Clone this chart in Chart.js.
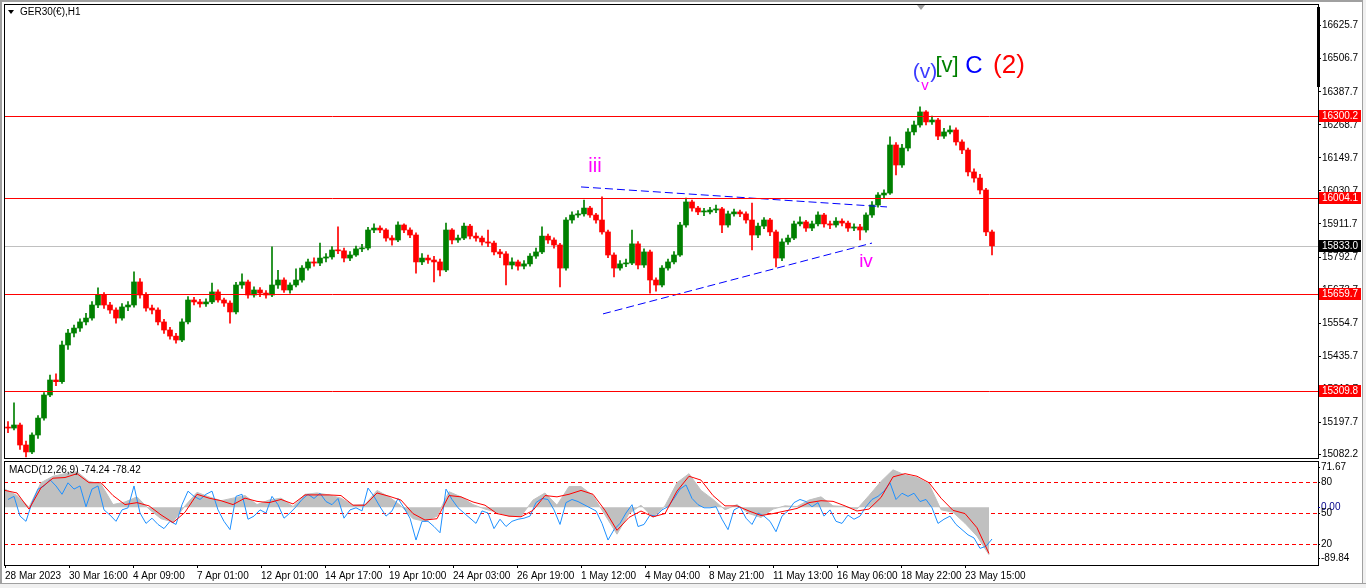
<!DOCTYPE html>
<html>
<head>
<meta charset="utf-8">
<script src="https://cdn.jsdelivr.net/npm/chart.js@4.4.0/dist/chart.umd.min.js"></script>
<style>
html, body { margin: 0; padding: 0; background: #fff; width: 1366px; height: 588px; overflow: hidden; }
canvas { position: absolute; left: 0; }
#main { top: 0; }
#macd { top: 460px; }
.edge { position: absolute; background: #a0a0a0; }
#edge-left { left: 0; top: 0; width: 2px; height: 588px; }
#edge-top { left: 0; top: 0; width: 1366px; height: 2px; }
#edge-right { left: 1362px; top: 0; width: 4px; height: 588px; background: #f0f0f0; border-left: 1px solid #a0a0a0; }
#edge-bottom { left: 0; top: 583px; width: 1366px; height: 5px; background: #f0f0f0; border-top: 1px solid #a0a0a0; }
</style>
</head>
<body>
<canvas id="main" width="1366" height="460"></canvas>
<canvas id="macd" width="1366" height="123"></canvas>
<div class="edge" id="edge-left"></div>
<div class="edge" id="edge-top"></div>
<div class="edge" id="edge-right"></div>
<div class="edge" id="edge-bottom"></div>
<script>
// time axis: one unit = one H1 bar
const tickLabels = ['28 Mar 2023', '30 Mar 16:00', '4 Apr 09:00', '7 Apr 01:00', '12 Apr 01:00', '14 Apr 17:00',
    '19 Apr 10:00', '24 Apr 03:00', '26 Apr 19:00', '1 May 12:00', '4 May 04:00', '8 May 21:00',
    '11 May 13:00', '16 May 06:00', '18 May 22:00', '23 May 15:00'];
const hoursPerTick = 64;
const hourMin = -1;
const hourMax = 1313;

// price axis
const priceTicks = [16625.7, 16506.7, 16387.7, 16268.7, 16149.7, 16030.7, 15911.7, 15792.7,
    15673.7, 15554.7, 15435.7, 15316.7, 15197.7, 15082.2];
const priceMin = 15069.2;
const priceMax = 16703.6;
const priceLevels = [16300.2, 16004.1, 15659.7, 15309.8];
const lastPrice = 15833.0;

// 6-hour candles (open of each = previous close)
const candleStep = 6;
const firstOpen = 15180;
const candleClose = [
    15177, 15188, 15116, 15091, 15152, 15213, 15296, 15350, 15344, 15476,
    15519, 15537, 15559, 15573, 15620, 15656, 15620, 15602, 15573, 15613,
    15620, 15703, 15656, 15609, 15602, 15559, 15530, 15508, 15494, 15559,
    15638, 15631, 15624, 15631, 15667, 15638, 15627, 15595, 15692, 15703,
    15656, 15674, 15663, 15656, 15692, 15710, 15674, 15692, 15710, 15753,
    15775, 15771, 15789, 15793, 15818, 15815, 15789, 15800, 15822, 15825,
    15890, 15897, 15890, 15861, 15854, 15908, 15890, 15872, 15775, 15789,
    15782, 15775, 15746, 15890, 15854, 15861, 15904, 15868, 15861, 15847,
    15843, 15811, 15804, 15764, 15775, 15760, 15768, 15796, 15811, 15868,
    15854, 15836, 15753, 15926, 15944, 15948, 15969, 15944, 15926, 15883,
    15800, 15753, 15768, 15771, 15840, 15764, 15811, 15710, 15692, 15753,
    15775, 15800, 15908, 15991, 15969, 15955, 15955, 15962, 15966, 15908,
    15948, 15955, 15948, 15926, 15872, 15904, 15926, 15883, 15789, 15847,
    15861, 15912, 15919, 15897, 15912, 15944, 15912, 15908, 15922, 15915,
    15897, 15901, 15890, 15944, 15980, 16016, 16023, 16196, 16124, 16185,
    16243, 16268, 16315, 16279, 16286, 16228, 16243, 16250, 16207, 16178,
    16099, 16077, 16034, 15883, 15833
];
const candleHigh = [
    15200, 15268, 15195, 15130, 15160, 15222, 15305, 15368, 15372, 15490,
    15532, 15548, 15570, 15590, 15632, 15682, 15665, 15630, 15610, 15625,
    15632, 15739, 15715, 15665, 15620, 15610, 15568, 15540, 15518, 15570,
    15650, 15648, 15640, 15642, 15699, 15675, 15645, 15635, 15702, 15732,
    15710, 15685, 15683, 15672, 15829, 15745, 15718, 15700, 15750, 15762,
    15785, 15790, 15843, 15805, 15830, 15901, 15825, 15812, 15832, 15838,
    15900, 15912, 15905, 15895, 15870, 15919, 15912, 15898, 15880, 15805,
    15800, 15795, 15785, 15915, 15895, 15872, 15915, 15910, 15880, 15868,
    15890, 15850, 15820, 15812, 15790, 15782, 15780, 15805, 15825, 15901,
    15875, 15862, 15842, 15935, 15955, 15960, 15998, 15975, 15950, 16009,
    15890, 15808, 15780, 15785, 15890, 15848, 15822, 15818, 15718, 15762,
    15785, 15812, 15918, 16005, 15998, 15975, 15968, 15972, 15980, 15972,
    15958, 15965, 15962, 15955, 15987, 15915, 15935, 15932, 15890, 15858,
    15872, 15922, 15937, 15925, 15922, 15955, 15950, 15922, 15935, 15930,
    15922, 15912, 15910, 15952, 15992, 16025, 16035, 16225, 16205, 16198,
    16255, 16282, 16333, 16320, 16300, 16292, 16256, 16265, 16258, 16215,
    16185, 16110, 16090, 16040, 15890
];
const candleLow = [
    15160, 15170, 15100, 15073, 15085, 15140, 15205, 15290, 15330, 15338,
    15460, 15505, 15525, 15548, 15565, 15610, 15608, 15590, 15555, 15565,
    15600, 15612, 15645, 15598, 15588, 15548, 15518, 15497, 15483, 15488,
    15552, 15620, 15612, 15615, 15625, 15630, 15615, 15555, 15588, 15680,
    15645, 15648, 15650, 15645, 15650, 15680, 15665, 15663, 15685, 15702,
    15745, 15760, 15762, 15775, 15785, 15805, 15775, 15780, 15795, 15812,
    15818, 15880, 15880, 15850, 15835, 15848, 15880, 15862, 15735, 15765,
    15770, 15703, 15725, 15740, 15840, 15845, 15855, 15858, 15850, 15835,
    15830, 15800, 15790, 15692, 15750, 15745, 15750, 15760, 15788, 15805,
    15842, 15825, 15685, 15745, 15915, 15935, 15940, 15935, 15915, 15875,
    15790, 15721, 15745, 15758, 15765, 15750, 15755, 15663, 15670, 15685,
    15745, 15768, 15795, 15900, 15958, 15945, 15942, 15948, 15952, 15880,
    15900, 15940, 15938, 15915, 15818, 15862, 15895, 15870, 15757, 15780,
    15838, 15855, 15905, 15885, 15888, 15905, 15900, 15895, 15900, 15905,
    15885, 15888, 15854, 15882, 15935, 15972, 16005, 16018, 16088, 16115,
    16175, 16232, 16260, 16268, 16270, 16215, 16220, 16236, 16195, 16165,
    16085, 16062, 16020, 15870, 15800
];

// trend lines [hour, price]
const trendUpper = [[576, 16045], [882, 15973]];
const trendLower = [[598, 15588], [867, 15843]];

// wave labels
const waveText = ['iii', 'iv', '(v)', 'v', '[v]', 'C', '(2)'];
const waveHour = [590, 861, 920, 920, 942, 969, 1004];
const wavePrice = [16117, 15775, 16459, 16408, 16480, 16480, 16480];
const waveColor = ['#ff00ff', '#ff00ff', '#3c3cff', '#ff00ff', '#008000', '#0000ff', '#ff0000'];
const waveSize = [20, 19, 21, 15, 22, 24, 26];

// MACD panel, 12-hour samples
const macdStep = 12;
const macdMax = 71.67;
const macdMin = -89.84;
const macdMain = [
    28, 18, 0, 38, 48, 52, 55, 40, 36, 4,
    8, 16, -3, -18, -23, 2, 23, 16, 10, 14,
    18, 4, 11, 14, 1, 20, 22, 19, 14, 3,
    4, 26, 16, 2, -18, -22, -14, 24, 16, 4,
    -3, -8, -14, -14, 11, 22, 3, 32, 32, 18,
    -12, -42, -10, 3, -16, 2, 38, 52, 26, 12,
    -4, 4, -10, -16, -3, 2, 1, 11, 16, 2,
    1, -3, 18, 40, 58, 50, 46, 36, -4, -8,
    -25, -45, -74
];
const macdSignal = [
    26, 22, -3, 30, 45, 46, 52, 38, 38, 18,
    4, 7, 2, -12, -24, -8, 20, 14, 10, 4,
    14, 9, 7, 12, 5, 19, 19, 19, 18, 3,
    3, 22, 17, 11, -10, -20, -18, 18, 16, 8,
    3, -10, -14, -15, -5, 18, 16, 20, 26, 20,
    -5, -36, -16, -6, -15, -10, 25, 48, 42, 18,
    2, 2, -6, -13, -10, -6, -2, 7, 10, 9,
    2, -6, -3, 15, 47, 52, 48, 38, 14, -5,
    -10, -32, -72
];
// oscillator (0-100) at candle resolution
const oscLine = [
    63, 66, 47, 42, 60, 73, 76, 82, 76, 68,
    79, 73, 76, 56, 73, 76, 53, 48, 42, 53,
    55, 76, 50, 40, 45, 39, 35, 42, 39, 58,
    71, 66, 63, 68, 71, 53, 42, 34, 66, 68,
    44, 47, 53, 50, 66, 58, 45, 50, 56, 63,
    68, 64, 69, 61, 58, 64, 45, 53, 55, 52,
    74, 66, 56, 47, 52, 64, 55, 45, 24, 42,
    42, 37, 31, 73, 63, 55, 50, 45, 40, 52,
    50, 35, 44, 37, 42, 44, 45, 47, 60, 64,
    63, 53, 39, 60, 63, 61, 58, 55, 52, 40,
    24, 34, 40, 50, 58, 37, 39, 48, 47, 53,
    56, 64, 73, 77, 64, 58, 55, 55, 56, 44,
    34, 53, 56, 45, 39, 50, 47, 42, 32, 47,
    52, 60, 63, 61, 56, 60, 47, 53, 42, 40,
    48, 44, 47, 56, 63, 66, 71, 79, 63, 69,
    66, 69, 61, 63, 55, 40, 44, 47, 39, 34,
    29, 26, 16, 18, 25
];
const oscLevels = [80, 50, 20];

const BULL = '#008000';
const BEAR = '#ff0000';
const AXIS_FONT = { family: 'Liberation Sans', size: 10 };

Chart.defaults.font.family = 'Liberation Sans';
Chart.defaults.color = '#000';

const candleOpen = [firstOpen, ...candleClose.slice(0, -1)];
const candleHour = candleClose.map((c, i) => i * candleStep + candleStep / 2);
const candleColor = candleClose.map((c, i) => c >= candleOpen[i] ? BULL : BEAR);
const wickData = candleHour.map((h, i) => ({ x: h, y: [candleLow[i], candleHigh[i]] }));
const bodyData = candleHour.map((h, i) => ({ x: h, y: [candleOpen[i], candleClose[i]] }));

function hline(ctx, a, py, color, dash) {
    ctx.save();
    ctx.strokeStyle = color;
    ctx.lineWidth = 1;
    ctx.setLineDash(dash || []);
    ctx.beginPath();
    ctx.moveTo(a.left, py);
    ctx.lineTo(a.right, py);
    ctx.stroke();
    ctx.restore();
}

function priceBox(ctx, py, text, fill) {
    ctx.fillStyle = fill;
    ctx.fillRect(1319, py - 6, 42, 12);
    ctx.fillStyle = '#fff';
    ctx.font = '10px "Liberation Sans"';
    ctx.textAlign = 'left';
    ctx.textBaseline = 'middle';
    ctx.fillText(text, 1322, py + 0.5);
}

const mainOverlay = {
    id: 'mainOverlay',
    beforeDatasetsDraw(chart) {
        const { ctx, chartArea: a, scales: { y } } = chart;
        hline(ctx, a, Math.round(y.getPixelForValue(lastPrice)) + 0.5, '#c0c0c0');
    },
    afterDatasetsDraw(chart) {
        const { ctx, chartArea: a, scales: { x, y } } = chart;
        priceLevels.forEach(p => hline(ctx, a, Math.round(y.getPixelForValue(p)) + 0.5, '#ff0000'));

        ctx.save();
        waveText.forEach((t, i) => {
            ctx.font = waveSize[i] + 'px "Liberation Sans"';
            ctx.fillStyle = waveColor[i];
            ctx.textAlign = 'center';
            ctx.textBaseline = 'middle';
            ctx.fillText(t, x.getPixelForValue(waveHour[i]), y.getPixelForValue(wavePrice[i]));
        });
        ctx.restore();
    },
    afterDraw(chart) {
        const { ctx, chartArea: a, scales: { y } } = chart;
        ctx.save();
        ctx.strokeStyle = '#000';
        ctx.lineWidth = 1;
        ctx.strokeRect(a.left + 0.5, a.top + 0.5, a.right - a.left, a.bottom - a.top);
        ctx.fillStyle = '#000';
        ctx.fillRect(a.right - 1, a.top + 3, 3, 80);

        // shift marker at the top edge
        ctx.fillStyle = '#a0a0a0';
        ctx.beginPath();
        ctx.moveTo(917, a.top + 1);
        ctx.lineTo(925, a.top + 1);
        ctx.lineTo(921, a.top + 6);
        ctx.closePath();
        ctx.fill();

        priceLevels.forEach(p => priceBox(ctx, Math.round(y.getPixelForValue(p)), p.toFixed(1), '#ff0000'));
        priceBox(ctx, Math.round(y.getPixelForValue(lastPrice)), lastPrice.toFixed(1), '#000');

        // title
        ctx.fillStyle = '#000';
        ctx.beginPath();
        ctx.moveTo(8, 10);
        ctx.lineTo(14, 10);
        ctx.lineTo(11, 14);
        ctx.closePath();
        ctx.fill();
        ctx.font = '10px "Liberation Sans"';
        ctx.textAlign = 'left';
        ctx.textBaseline = 'middle';
        ctx.fillText('GER30(€),H1', 20, 12.5);
        ctx.restore();
    }
};

new Chart(document.getElementById('main'), {
    type: 'bar',
    data: {
        datasets: [
            {
                type: 'line', data: trendUpper.map(p => ({ x: p[0], y: p[1] })),
                borderColor: '#0000ff', borderWidth: 1, borderDash: [8, 4], pointRadius: 0, order: 0
            },
            {
                type: 'line', data: trendLower.map(p => ({ x: p[0], y: p[1] })),
                borderColor: '#0000ff', borderWidth: 1, borderDash: [8, 4], pointRadius: 0, order: 0
            },
            {
                data: bodyData, backgroundColor: candleColor, barThickness: 5,
                minBarLength: 1, grouped: false, order: 1
            },
            {
                data: wickData, backgroundColor: candleColor, barThickness: 1,
                grouped: false, order: 2
            }
        ]
    },
    options: {
        responsive: false,
        animation: false,
        events: [],
        layout: { padding: { left: 4, top: 4, right: 0, bottom: 2 } },
        plugins: { legend: { display: false }, tooltip: { enabled: false } },
        scales: {
            x: { type: 'linear', display: false, min: hourMin, max: hourMax, offset: false },
            y: {
                type: 'linear', position: 'right', min: priceMin, max: priceMax, bounds: 'data',
                grid: { drawOnChartArea: false, drawTicks: true, tickLength: 3, color: '#000' },
                border: { display: true, color: '#000' },
                ticks: { font: AXIS_FONT, color: '#000', padding: 1, autoSkip: false,
                    callback: v => v.toFixed(1) },
                afterBuildTicks: s => { s.ticks = priceTicks.map(v => ({ value: v })); },
                afterFit: s => { s.width = 48; s.paddingTop = 0; s.paddingBottom = 0; }
            }
        }
    },
    plugins: [mainOverlay]
});

const macdOverlay = {
    id: 'macdOverlay',
    beforeDatasetsDraw(chart) {
        const { ctx, chartArea: a, scales: { y2 } } = chart;
        oscLevels.forEach(v => hline(ctx, a, Math.round(y2.getPixelForValue(v)) + 0.5, '#ff0000', [4, 3]));
    },
    afterDraw(chart) {
        const { ctx, chartArea: a, scales: { y, y2 } } = chart;
        ctx.save();
        ctx.strokeStyle = '#000';
        ctx.lineWidth = 1;
        ctx.strokeRect(a.left + 0.5, a.top + 0.5, a.right - a.left, a.bottom - a.top);

        ctx.fillStyle = '#000';
        ctx.font = '10px "Liberation Sans"';
        ctx.textAlign = 'left';
        ctx.textBaseline = 'middle';
        ctx.fillText('MACD(12,26,9) -74.24 -78.42', 9, a.top + 9);

        const labels = [
            [macdMax.toFixed(2), a.top + 6, '#000'],
            [macdMin.toFixed(2), a.bottom - 7, '#000'],
            ['0.00', y.getPixelForValue(0), '#00008b']
        ];
        oscLevels.forEach(v => labels.push([String(v), y2.getPixelForValue(v), '#000']));
        labels.forEach(l => {
            ctx.fillStyle = l[2];
            ctx.fillText(l[0], a.right + 3, Math.round(l[1]) + 0.5);
            ctx.fillRect(a.right, Math.round(l[1]), 2, 1);
        });
        ctx.restore();
    }
};

new Chart(document.getElementById('macd'), {
    type: 'line',
    data: {
        datasets: [
            {
                data: macdSignal.map((v, j) => ({ x: j * macdStep, y: v })), yAxisID: 'y',
                borderColor: '#ff0000', borderWidth: 1, pointRadius: 0, order: 1
            },
            {
                data: oscLine.map((v, i) => ({ x: candleHour[i], y: v })), yAxisID: 'y2',
                borderColor: '#1e90ff', borderWidth: 1, pointRadius: 0, order: 2
            },
            {
                data: macdMain.map((v, j) => ({ x: j * macdStep, y: v })), yAxisID: 'y',
                borderColor: '#c0c0c0', backgroundColor: '#c0c0c0', borderWidth: 1,
                fill: 'origin', pointRadius: 0, order: 3
            }
        ]
    },
    options: {
        responsive: false,
        animation: false,
        events: [],
        layout: { padding: { left: 4, top: 1, right: 48, bottom: 0 } },
        plugins: { legend: { display: false }, tooltip: { enabled: false } },
        scales: {
            x: {
                type: 'linear', min: hourMin, max: hourMax, bounds: 'data',
                grid: { drawOnChartArea: false, drawTicks: true, tickLength: 3, color: '#000' },
                border: { display: true, color: '#000' },
                ticks: { font: AXIS_FONT, color: '#000', align: 'start', padding: 2,
                    autoSkip: false, maxRotation: 0, callback: (v, i) => tickLabels[i] },
                afterBuildTicks: s => { s.ticks = tickLabels.map((t, i) => ({ value: i * hoursPerTick })); },
                afterFit: s => { s.height = 18; s.paddingLeft = 0; s.paddingRight = 0; }
            },
            y: { type: 'linear', display: false, min: macdMin, max: macdMax },
            y2: { type: 'linear', display: false, min: 0, max: 100 }
        }
    },
    plugins: [macdOverlay]
});
</script>
</body>
</html>
